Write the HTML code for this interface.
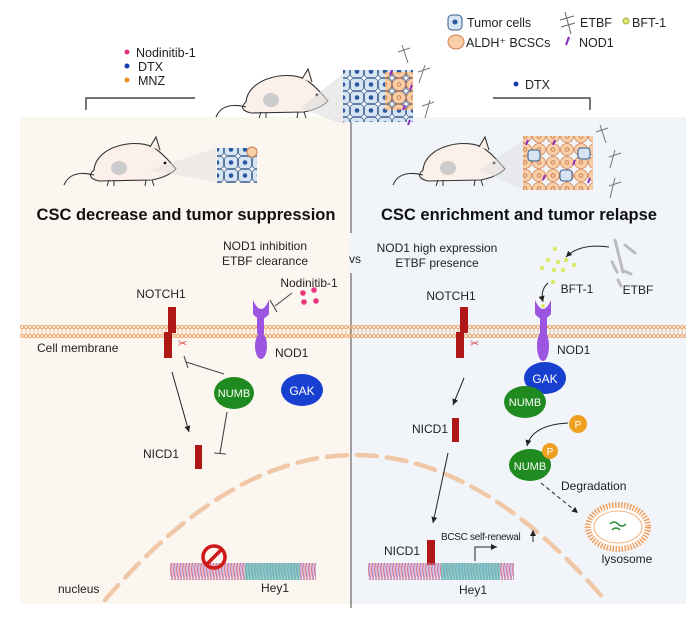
<!DOCTYPE html>
<html><head><meta charset="utf-8"><style>
html,body{margin:0;padding:0;background:#fff}
svg{display:block;font-family:"Liberation Sans",Arial,sans-serif}
</style></head><body>
<svg width="700" height="631" viewBox="0 0 700 631" xmlns="http://www.w3.org/2000/svg">
<defs>
<pattern id="mem" x="0" y="325" width="4" height="13" patternUnits="userSpaceOnUse">
<circle cx="2" cy="2" r="1.6" fill="none" stroke="#f0a060" stroke-width="0.9"/>
<circle cx="2" cy="11" r="1.6" fill="none" stroke="#f0a060" stroke-width="0.9"/>
<line x1="2" y1="3.6" x2="2" y2="9.4" stroke="#f0a060" stroke-width="0.7"/>
</pattern>
<pattern id="dna" x="0" y="0" width="3" height="17" patternUnits="userSpaceOnUse">
<path d="M0 0 Q2 8 0 17" stroke="#9a6fc0" fill="none" stroke-width="0.9"/>
<path d="M1.5 0 Q3.5 8 1.5 17" stroke="#e07080" fill="none" stroke-width="0.9"/>
</pattern>
<pattern id="cells" x="0" y="0" width="14" height="13" patternUnits="userSpaceOnUse">
<rect x="0.5" y="0.5" width="13" height="12" rx="3" fill="#d6e4f4" stroke="#355a8a" stroke-width="0.8"/>
<circle cx="7" cy="6.5" r="2.3" fill="#2a58a0"/>
</pattern>
<pattern id="bcsc" x="0" y="0" width="14" height="13" patternUnits="userSpaceOnUse">
<ellipse cx="7" cy="6.5" rx="6.5" ry="6" fill="#f9cfa8" stroke="#d08050" stroke-width="0.8"/>
<circle cx="7" cy="6.5" r="1.8" fill="none" stroke="#d08050"/>
</pattern>
<marker id="ar" markerWidth="8" markerHeight="8" refX="6" refY="3" orient="auto"><path d="M0 0 L6 3 L0 6z" fill="#222"/></marker>
<g id="mouse">
<path d="M30 35 C32 10 75 2 92 14 C100 20 106 27 112 34 C106 40 98 43 88 45 L35 46 C26 44 24 40 30 35z" fill="#fbf0ea" stroke="#333" stroke-width="1.1"/>
<path d="M30 40 C14 36 4 40 0 50" fill="none" stroke="#333" stroke-width="1.1"/>
<path d="M86 12 l6 -10 l4 13" fill="#fbf0ea" stroke="#333" stroke-width="1.1"/>
<circle cx="101" cy="28" r="1.4" fill="#111"/>
<path d="M45 45 l-2 6 M50 45 l0 6 M82 45 l-1 6 M88 45 l2 6" stroke="#333"/>
<ellipse cx="55" cy="33" rx="8" ry="7" fill="#ccc"/>
</g>
</defs>

<!-- panels -->
<rect x="20" y="117" width="330" height="487" fill="#fcf6f1"/>
<rect x="350" y="117" width="336" height="487" fill="#f1f5fa"/>
<line x1="351" y1="118" x2="351" y2="233" stroke="#666" stroke-width="1.2"/>
<line x1="351" y1="273" x2="351" y2="608" stroke="#666" stroke-width="1.2"/>

<!-- legend -->
<g font-size="12.5" fill="#222">
<rect x="448" y="15" width="14" height="15" rx="4" fill="#d6e4f4" stroke="#355a8a"/><circle cx="455" cy="22" r="2.5" fill="#2a58a0"/>
<text x="467" y="27">Tumor cells</text>
<ellipse cx="456" cy="42" rx="8" ry="7" fill="#f9cfa8" stroke="#d08050"/>
<text x="466" y="47">ALDH⁺ BCSCs</text>
<text x="580" y="27">ETBF</text><path d="M565 12 l6 22 M560 20 l14 -4 M561 27 l14 -4" stroke="#666" fill="none"/>
<circle cx="626" cy="21" r="3" fill="#dde870" stroke="#aab040"/><text x="632" y="27">BFT-1</text>
<text x="579" y="47">NOD1</text><path d="M569 37 l-3 8" stroke="#9030c0" stroke-width="2.2"/>
<circle cx="127" cy="52" r="2.5" fill="#e0307a"/><text x="136" y="57">Nodinitib-1</text>
<circle cx="127" cy="66" r="2.5" fill="#1a3ab0"/><text x="138" y="71">DTX</text>
<circle cx="127" cy="80" r="2.5" fill="#e89020"/><text x="138" y="85">MNZ</text>
<circle cx="516" cy="84" r="2.5" fill="#1a3ab0"/><text x="525" y="89">DTX</text>
</g>
<path d="M86 110 V98 H195" fill="none" stroke="#222" stroke-width="1.2"/>
<path d="M493 98 H590 V110" fill="none" stroke="#222" stroke-width="1.2"/>

<!-- top mouse + tumor -->
<use href="#mouse" x="216" y="67"/>
<path d="M300 108 L345 72 L345 125z" fill="#ddd" opacity="0.6"/>
<rect x="343" y="70" width="70" height="52" fill="url(#cells)"/>
<rect x="385" y="72" width="28" height="38" fill="url(#bcsc)"/>
<g stroke="#9030c0" stroke-width="2"><path d="M392 70 l-2 5 M412 85 l-2 5 M405 105 l-2 5 M410 120 l-2 5"/></g>
<g stroke="#777" fill="none"><path d="M402 45 l6 18 M398 52 l12 -4 M425 65 l-6 18 M418 72 l12 -4 M430 100 l-5 18 M422 106 l12 -4"/></g>

<!-- left mouse -->
<use href="#mouse" x="64" y="135"/>
<path d="M150 170 L216 148 L216 182z" fill="#ddd" opacity="0.5"/>
<rect x="217" y="148" width="40" height="35" fill="url(#cells)"/>
<circle cx="252" cy="152" r="5" fill="#f9cfa8" stroke="#d08050"/>
<!-- right mouse -->
<use href="#mouse" x="393" y="135"/>
<path d="M480 170 L523 140 L523 190z" fill="#ddd" opacity="0.5"/>
<rect x="523" y="136" width="70" height="54" fill="url(#bcsc)"/>
<g fill="#d6e4f4" stroke="#355a8a"><rect x="528" y="150" width="12" height="11" rx="3"/><rect x="560" y="170" width="12" height="11" rx="3"/><rect x="578" y="148" width="12" height="11" rx="3"/></g>
<g stroke="#9030c0" stroke-width="2"><path d="M528 140 l-2 5 M545 175 l-2 5 M575 160 l-2 5 M590 178 l-2 5 M555 140 l-2 5"/></g>
<g stroke="#777" fill="none"><path d="M600 125 l6 18 M596 132 l12 -4 M615 150 l-5 18 M609 157 l12 -4 M615 178 l-5 20 M609 186 l12 -4"/></g>

<!-- titles -->
<text x="186" y="220" font-size="16.5" font-weight="bold" text-anchor="middle" fill="#111">CSC decrease and tumor suppression</text>
<text x="519" y="220" font-size="16.5" font-weight="bold" text-anchor="middle" fill="#111">CSC enrichment and tumor relapse</text>

<g font-size="12" fill="#222">
<text x="265" y="250" text-anchor="middle">NOD1 inhibition</text>
<text x="265" y="265" text-anchor="middle">ETBF clearance</text>
<text x="355" y="263" text-anchor="middle">vs</text>
<text x="437" y="252" text-anchor="middle">NOD1 high expression</text>
<text x="437" y="267" text-anchor="middle">ETBF presence</text>
<text x="309" y="287" text-anchor="middle">Nodinitib-1</text>
<text x="161" y="298" text-anchor="middle">NOTCH1</text>
<text x="451" y="300" text-anchor="middle">NOTCH1</text>
<text x="577" y="293" text-anchor="middle">BFT-1</text>
<text x="638" y="294" text-anchor="middle">ETBF</text>
</g>
<g fill="#e8357c"><circle cx="303" cy="293" r="2.8"/><circle cx="314" cy="290" r="2.8"/><circle cx="304" cy="302" r="2.8"/><circle cx="316" cy="301" r="2.8"/></g>
<path d="M275 306 L292 293 M270 300 L277 312" stroke="#444" stroke-width="1.1"/>
<g fill="#dde870"><circle cx="555" cy="249" r="2.3"/><circle cx="548" cy="260" r="2.3"/><circle cx="558" cy="262" r="2.3"/><circle cx="566" cy="260" r="2.3"/><circle cx="542" cy="268" r="2.3"/><circle cx="554" cy="270" r="2.3"/><circle cx="563" cy="270" r="2.3"/><circle cx="553" cy="282" r="2.3"/><circle cx="574" cy="265" r="2.3"/></g>
<path d="M609 247 Q580 243 566 257" fill="none" stroke="#222" marker-end="url(#ar)"/>
<path d="M548 283 Q540 290 543 302" fill="none" stroke="#222" marker-end="url(#ar)"/>
<g stroke="#bbb" stroke-width="3" stroke-linecap="round"><path d="M615 240 l8 32 M625 245 l10 8 M612 262 l5 10 M622 270 l9 4 M618 280 l3 6"/></g>

<!-- membrane -->
<rect x="20" y="325" width="666" height="13" fill="url(#mem)"/>
<text x="37" y="352" font-size="12" fill="#222">Cell membrane</text>

<!-- NOTCH1 -->
<g fill="#b01818">
<rect x="168" y="307" width="8" height="26"/><rect x="164" y="332" width="8" height="26"/>
<rect x="460" y="307" width="8" height="26"/><rect x="456" y="332" width="8" height="26"/>
</g>
<text x="178" y="347" font-size="11" fill="#d04040">✂</text>
<text x="470" y="347" font-size="11" fill="#d04040">✂</text>
<!-- NOD1 -->
<g fill="#9b55e0">
<path d="M253 300 Q261 318 269 300 L269 314 Q261 324 253 314z"/>
<rect x="257" y="318" width="7" height="16"/><ellipse cx="261" cy="346" rx="6" ry="13"/>
<path d="M535 300 Q543 318 551 300 L551 314 Q543 324 535 314z"/>
<rect x="540" y="318" width="7" height="16"/><ellipse cx="543" cy="346" rx="6" ry="15"/>
</g>
<circle cx="543" cy="306" r="2" fill="#dde870"/>
<text x="275" y="357" font-size="12" fill="#222">NOD1</text>
<text x="557" y="354" font-size="12" fill="#222">NOD1</text>

<!-- nucleus arc -->
<path d="M105 600 Q355 310 605 600" fill="none" stroke="#f0c8a8" stroke-width="4.5" stroke-dasharray="20,10" stroke-linecap="round"/>
<text x="58" y="593" font-size="12" fill="#222">nucleus</text>

<!-- left pathway -->
<ellipse cx="234" cy="393" rx="20" ry="16" fill="#1f8a1f"/>
<text x="234" y="397" font-size="11" fill="#fff" text-anchor="middle">NUMB</text>
<ellipse cx="302" cy="390" rx="21" ry="16" fill="#1840d0"/>
<text x="302" y="395" font-size="12" fill="#fff" text-anchor="middle">GAK</text>
<path d="M224 374 L186 362 M184 356 L188 368" stroke="#444" stroke-width="1.1"/>
<path d="M227 412 L220 453 M214 453 L226 454" stroke="#444" stroke-width="1.1"/>
<path d="M172 372 L189 432" stroke="#222" marker-end="url(#ar)"/>
<rect x="195" y="445" width="7" height="24" fill="#b01818"/>
<text x="143" y="458" font-size="12" fill="#222">NICD1</text>

<!-- left DNA -->
<rect x="170" y="563" width="146" height="17" fill="url(#dna)"/>
<rect x="245" y="563" width="55" height="17" fill="#40d0c0" opacity="0.55"/>
<circle cx="214" cy="557" r="11" fill="none" stroke="#d01818" stroke-width="3.5"/>
<line x1="206" y1="565" x2="222" y2="549" stroke="#d01818" stroke-width="3.5"/>
<text x="275" y="592" font-size="12" fill="#222" text-anchor="middle">Hey1</text>

<!-- right pathway -->
<ellipse cx="545" cy="378" rx="21" ry="16" fill="#1840d0"/>
<text x="545" y="383" font-size="12" fill="#fff" text-anchor="middle">GAK</text>
<ellipse cx="525" cy="402" rx="21" ry="16" fill="#1f8a1f"/>
<text x="525" y="406" font-size="11" fill="#fff" text-anchor="middle">NUMB</text>
<circle cx="578" cy="424" r="9" fill="#f0a020"/><text x="578" y="428" font-size="10" fill="#fff" text-anchor="middle">P</text>
<path d="M568 423 Q532 425 527 446" fill="none" stroke="#222" marker-end="url(#ar)"/>
<ellipse cx="530" cy="465" rx="21" ry="16" fill="#1f8a1f"/>
<text x="530" y="470" font-size="11" fill="#fff" text-anchor="middle">NUMB</text>
<circle cx="550" cy="451" r="8" fill="#f0a020"/><text x="550" y="455" font-size="10" fill="#fff" text-anchor="middle">P</text>
<text x="561" y="490" font-size="12" fill="#222">Degradation</text>
<path d="M541 483 L578 513" stroke="#222" stroke-dasharray="4,3" marker-end="url(#ar)"/>
<ellipse cx="618" cy="527" rx="30" ry="22" fill="#fff" stroke="#f0a060" stroke-width="6" stroke-dasharray="1.5,1.5"/>
<ellipse cx="618" cy="527" rx="24" ry="16" fill="#fff" stroke="#f0a060" stroke-width="0.8"/>
<path d="M610 524 q4 -4 8 0 q4 4 8 0 M612 530 q4 -4 8 0" stroke="#2a8a3a" fill="none" stroke-width="1.5"/>
<text x="627" y="563" font-size="12" fill="#222" text-anchor="middle">lysosome</text>

<path d="M464 378 L453 405" stroke="#222" marker-end="url(#ar)"/>
<rect x="452" y="418" width="7" height="24" fill="#b01818"/>
<text x="412" y="433" font-size="12" fill="#222">NICD1</text>
<path d="M448 453 L433 523" stroke="#222" marker-end="url(#ar)"/>
<rect x="427" y="540" width="8" height="25" fill="#b01818"/>
<text x="384" y="555" font-size="12" fill="#222">NICD1</text>
<rect x="368" y="563" width="146" height="17" fill="url(#dna)"/>
<rect x="441" y="563" width="59" height="17" fill="#40d0c0" opacity="0.55"/>
<text x="473" y="594" font-size="12" fill="#222" text-anchor="middle">Hey1</text>
<text x="441" y="540" font-size="10" fill="#222" letter-spacing="-0.3">BCSC self-renewal</text>
<path d="M533 542 L533 530" stroke="#222" marker-end="url(#ar)"/>
<path d="M475 561 L475 547 L497 547" fill="none" stroke="#222" marker-end="url(#ar)"/>
</svg>
</body></html>
